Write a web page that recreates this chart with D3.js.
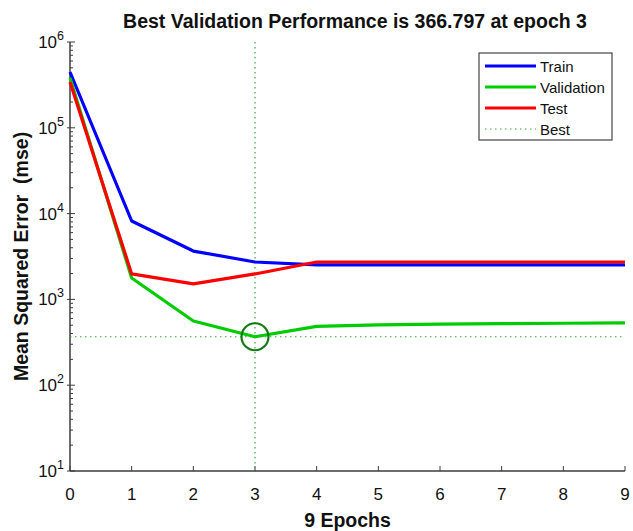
<!DOCTYPE html>
<html>
<head>
<meta charset="utf-8">
<script src="https://cdn.jsdelivr.net/npm/d3@7"></script>
<style>
  body { margin: 0; background: #fff; }
  text { font-family: "Liberation Sans", Arial, sans-serif; }
</style>
</head>
<body>
<div id="chart"></div>
<script>
// data
const epochs = [0, 1, 2, 3, 4, 5, 6, 7, 8, 9];
const train = [447000, 8200, 3660, 2730, 2520, 2520, 2520, 2520, 2520, 2520];
const validation = [380000, 1775, 560, 366.797, 485, 505, 515, 522, 527, 532];
const test = [342000, 1980, 1515, 1980, 2730, 2730, 2730, 2730, 2730, 2730];
const yTickExp = [1, 2, 3, 4, 5, 6];
const bestEpoch = 3;
const bestValue = 366.797;
const legendNames = ["Train", "Validation", "Test", "Best"];

const width = 633, height = 531;
const margin = { top: 42, right: 8, bottom: 60, left: 70 };

const svg = d3.select("#chart").append("svg")
  .attr("width", width)
  .attr("height", height);

const x = d3.scaleLinear().domain([0, 9]).range([margin.left, width - margin.right]);
const y = d3.scaleLog().domain([10, 1e6]).range([height - margin.bottom, margin.top]);

const axisColor = "#3c3c3c";

// minor ticks on the log axis
const minor = [];
for (let e = 1; e < 6; e++) {
  for (let m = 2; m <= 9; m++) minor.push(m * Math.pow(10, e));
}
svg.append("g").selectAll("line").data(minor).join("line")
  .attr("x1", margin.left).attr("x2", margin.left + 3)
  .attr("y1", d => y(d)).attr("y2", d => y(d))
  .attr("stroke", axisColor).attr("stroke-width", 1);

// major y ticks
const yt = svg.append("g");
yt.selectAll("line").data(yTickExp).join("line")
  .attr("x1", margin.left - 3).attr("x2", margin.left + 5)
  .attr("y1", d => y(Math.pow(10, d))).attr("y2", d => y(Math.pow(10, d)))
  .attr("stroke", axisColor).attr("stroke-width", 1);
const ylab = yt.selectAll("text").data(yTickExp).join("text")
  .attr("x", margin.left - 6)
  .attr("y", d => y(Math.pow(10, d)) + 6)
  .attr("text-anchor", "end")
  .attr("font-size", 17)
  .attr("fill", "#111");
ylab.append("tspan").text("10");
ylab.append("tspan").attr("dy", -8).attr("font-size", 12.5).text(d => d);

// x ticks
const xt = svg.append("g");
xt.selectAll("line").data(epochs).join("line")
  .attr("x1", d => x(d)).attr("x2", d => x(d))
  .attr("y1", height - margin.bottom).attr("y2", height - margin.bottom - 5)
  .attr("stroke", axisColor).attr("stroke-width", 1);
xt.selectAll("text").data(epochs).join("text")
  .attr("x", d => x(d))
  .attr("y", height - margin.bottom + 29)
  .attr("text-anchor", "middle")
  .attr("font-size", 17)
  .attr("fill", "#111")
  .text(d => d);

// axis lines
svg.append("line")
  .attr("x1", margin.left).attr("x2", margin.left)
  .attr("y1", y(1e6)).attr("y2", y(10))
  .attr("stroke", axisColor).attr("stroke-width", 1.5);
svg.append("line")
  .attr("x1", margin.left).attr("x2", x(9))
  .attr("y1", y(10)).attr("y2", y(10))
  .attr("stroke", axisColor).attr("stroke-width", 1.5);

// best markers
const bestColor = "#3aa63a";
svg.append("line")
  .attr("x1", x(bestEpoch)).attr("x2", x(bestEpoch))
  .attr("y1", y(1e6)).attr("y2", y(10))
  .attr("stroke", bestColor).attr("stroke-width", 1.2)
  .attr("stroke-dasharray", "1.5,3.5");
svg.append("line")
  .attr("x1", x(0)).attr("x2", x(9))
  .attr("y1", y(bestValue)).attr("y2", y(bestValue))
  .attr("stroke", bestColor).attr("stroke-width", 1.2)
  .attr("stroke-dasharray", "1.5,3.5");

// curves
const line = d3.line().x((d, i) => x(epochs[i])).y(d => y(d));
const series = [
  { name: "Train", values: train, color: "#0000ff" },
  { name: "Validation", values: validation, color: "#00cc00" },
  { name: "Test", values: test, color: "#ff0000" }
];
svg.append("g").selectAll("path").data(series).join("path")
  .attr("d", d => line(d.values))
  .attr("fill", "none")
  .attr("stroke", d => d.color)
  .attr("stroke-width", 3.2)
  .attr("stroke-linejoin", "round");

svg.append("circle")
  .attr("cx", x(bestEpoch)).attr("cy", y(bestValue))
  .attr("r", 13.5)
  .attr("fill", "none")
  .attr("stroke", "#127a12")
  .attr("stroke-width", 2.2);

// legend
const lg = svg.append("g").attr("transform", "translate(479,53)");
lg.append("rect").attr("width", 133).attr("height", 87)
  .attr("fill", "#fff").attr("stroke", "#444").attr("stroke-width", 1.2);
const legendColors = ["#0000ff", "#00cc00", "#ff0000", bestColor];
const items = lg.selectAll("g").data(legendNames).join("g")
  .attr("transform", (d, i) => `translate(0,${13 + i * 21})`);
items.append("line")
  .attr("x1", 6).attr("x2", 57)
  .attr("stroke", (d, i) => legendColors[i])
  .attr("stroke-width", (d, i) => i === 3 ? 1.2 : 3.2)
  .attr("stroke-dasharray", (d, i) => i === 3 ? "1.5,3.5" : null);
items.append("text")
  .attr("x", 61).attr("y", 5.5)
  .attr("font-size", 15)
  .attr("fill", "#111")
  .text(d => d);

// titles
svg.append("text")
  .attr("x", 355).attr("y", 28)
  .attr("text-anchor", "middle")
  .attr("font-size", 19.5).attr("font-weight", "bold")
  .attr("fill", "#111")
  .text("Best Validation Performance is 366.797 at epoch 3");
svg.append("text")
  .attr("x", (x(0) + x(9)) / 2).attr("y", 527)
  .attr("text-anchor", "middle")
  .attr("font-size", 19.5).attr("font-weight", "bold")
  .attr("fill", "#111")
  .text("9 Epochs");
svg.append("text")
  .attr("transform", `translate(28,${(y(10) + y(1e6)) / 2}) rotate(-90)`)
  .attr("text-anchor", "middle")
  .attr("font-size", 19.5).attr("font-weight", "bold")
  .attr("fill", "#111")
  .style("white-space", "pre")
  .text("Mean Squared Error  (mse)");
</script>
</body>
</html>
